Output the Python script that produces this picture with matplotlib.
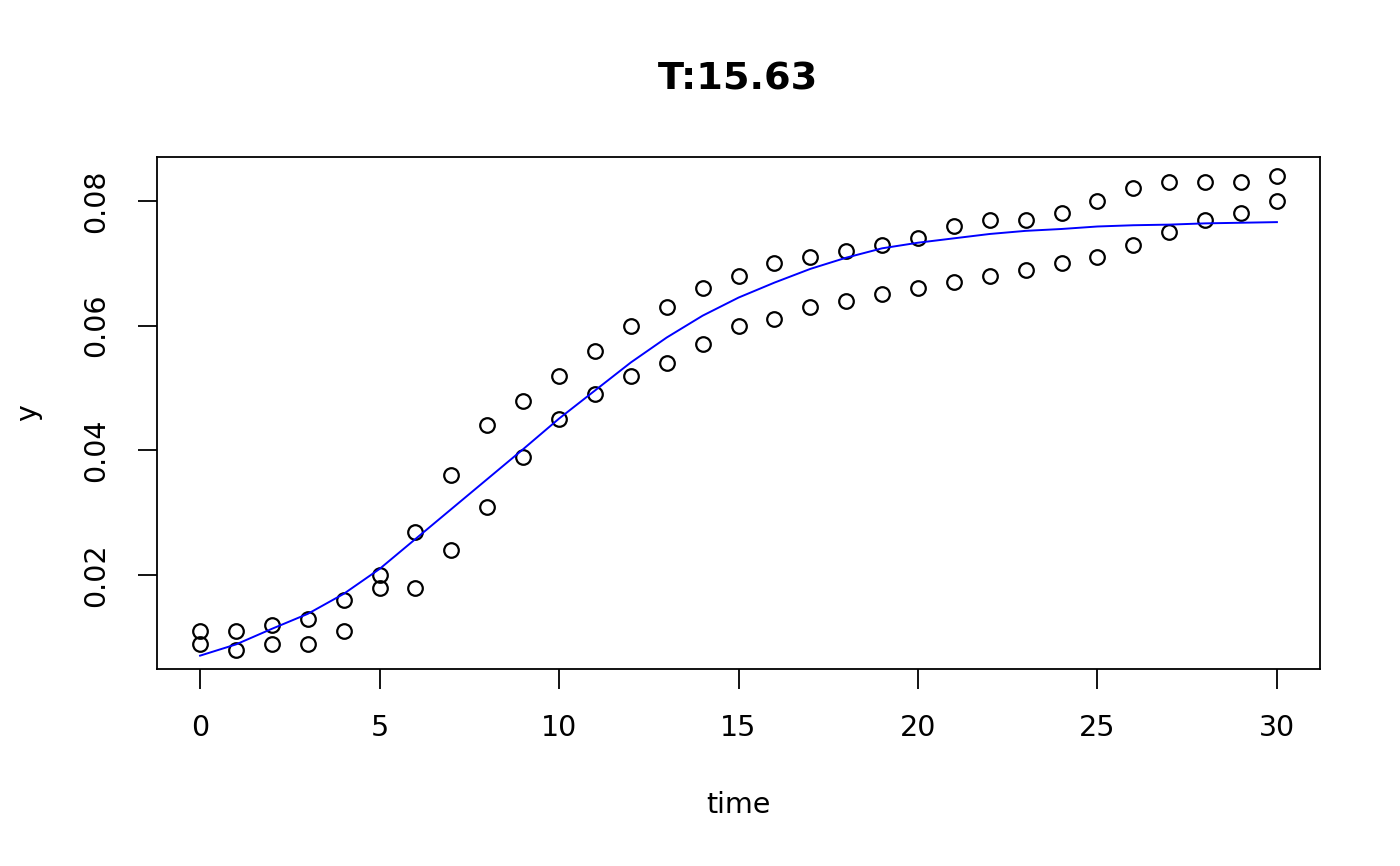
import numpy as np
import matplotlib
matplotlib.use("Agg")
import matplotlib.pyplot as plt

time = list(range(0, 31))
rep1 = [0.011, 0.011, 0.012, 0.013, 0.016, 0.020, 0.027, 0.036, 0.044, 0.048,
        0.052, 0.056, 0.060, 0.063, 0.066, 0.068, 0.070, 0.071, 0.072, 0.073,
        0.074, 0.076, 0.077, 0.077, 0.078, 0.080, 0.082, 0.083, 0.083, 0.083,
        0.084]
rep2 = [0.009, 0.008, 0.009, 0.009, 0.011, 0.018, 0.018, 0.024, 0.031, 0.039,
        0.045, 0.049, 0.052, 0.054, 0.057, 0.060, 0.061, 0.063, 0.064, 0.065,
        0.066, 0.067, 0.068, 0.069, 0.070, 0.071, 0.073, 0.075, 0.077, 0.078,
        0.080]

# fitted curve (blue), read at each time point
fit = [0.0071, 0.0089, 0.0114, 0.0138, 0.0170, 0.0210, 0.0258, 0.0306, 0.0354,
       0.0402, 0.0451, 0.0496, 0.0541, 0.0581, 0.0616, 0.0645, 0.0669, 0.0691,
       0.0709, 0.0724, 0.0733, 0.0740, 0.0747, 0.0752, 0.0755, 0.0759, 0.0761,
       0.0762, 0.0764, 0.0765, 0.0766]

title = "T:15.63"

# ------------------------------------------------------------------------------
fig = plt.figure(figsize=(14, 8.66), dpi=100)
ax = fig.add_axes([157 / 1400, 1 - 669 / 866, (1320 - 157) / 1400, (669 - 157) / 866])

ax.plot(time + time, rep1 + rep2, linestyle="none", marker="o", markersize=10.5,
        markerfacecolor="none", markeredgecolor="black", markeredgewidth=1.6)
ax.plot(time, fit, color="blue", linewidth=1.4)

ymin, ymax = min(rep1 + rep2), max(rep1 + rep2)
pad = (ymax - ymin) * 0.04
ax.set_xlim(-1.2, 31.2)
ax.set_ylim(ymin - pad, ymax + pad)

ax.set_xticks([0, 5, 10, 15, 20, 25, 30])
ax.set_yticks([0.02, 0.04, 0.06, 0.08])
ax.set_yticklabels(["0.02", "0.04", "0.06", "0.08"], rotation=90, va="center")

for s in ax.spines.values():
    s.set_linewidth(1.3)
ax.tick_params(axis="x", direction="out", length=14.5, width=1.3, labelsize=20.5, pad=18)
ax.tick_params(axis="y", direction="out", length=14, width=1.3, labelsize=20.5, pad=20)

ax.set_xlabel("time", fontsize=20.5)
ax.xaxis.set_label_coords(0.5, (669 - 805) / 512)
ax.xaxis.label.set_va("center")
ax.set_ylabel("y", fontsize=20.5)
ax.yaxis.set_label_coords((28 - 157) / 1163, 0.5)
ax.yaxis.label.set_va("center")

ax.text(0.5, (669 - 80) / 512, title, transform=ax.transAxes, ha="center", va="center",
        fontsize=27.5, fontweight="bold")

fig.savefig("out.png", dpi=100)
